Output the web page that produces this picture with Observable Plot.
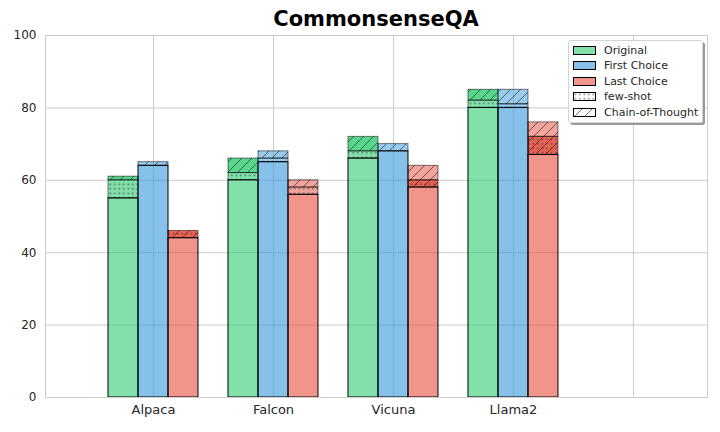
<!DOCTYPE html>
<html>
<head>
<meta charset="utf-8">
<script src="https://cdn.jsdelivr.net/npm/d3@7"></script>
<script src="https://cdn.jsdelivr.net/npm/@observablehq/plot@0.6"></script>
<style>
  html, body { margin: 0; padding: 0; background: #fff; }
  #wrap { position: relative; width: 720px; height: 432px; font-family: "DejaVu Sans", sans-serif; }
  #title { position: absolute; left: 45px; width: 662px; top: 9px; text-align: center; z-index: 2;
           font-weight: bold; font-size: 21px; line-height: 1; color: #000; }
  #chart { position: absolute; left: 0; top: 20px; }
  #legend { position: absolute; left: 568px; top: 40px; width: 133px; height: 81px; z-index: 2;
            background: rgba(255,255,255,0.9); border: 1px solid #d5d5d5; border-radius: 3px;
            box-shadow: 2px 2px 0 #9a9a9a; font-size: 11px; color: #262626; }
  .row { position: absolute; left: 4px; height: 14px; display: flex; align-items: center; }
  .row svg { margin-right: 8px; }
</style>
</head>
<body>
<div id="wrap">
  <div id="title">CommonsenseQA</div>
  <div id="chart"></div>
  <div id="legend"></div>
</div>
<script>
// ---- data ----
const models = ["Alpaca", "Falcon", "Vicuna", "Llama2"];
const options = ["Original", "First Choice", "Last Choice"];
// bar tops for each stage (base, with few-shot, with Chain-of-Thought)
const originalBase    = [55, 60, 66, 80];
const originalFewShot = [60, 62, 68, 82];
const originalCoT     = [61, 66, 72, 85];
const firstBase       = [64, 65, 68, 80];
const firstFewShot    = [64, 66, 68, 81];
const firstCoT        = [65, 68, 70, 85];
const lastBase        = [44, 56, 58, 67];
const lastFewShot     = [46, 58, 60, 72];
const lastCoT         = [46, 60, 64, 76];
const yTicks = [0, 20, 40, 60, 80, 100];
const legendLabels = ["Original", "First Choice", "Last Choice", "few-shot", "Chain-of-Thought"];

// ---- styles ----
const colors = {"Original": "#2ecc71", "First Choice": "#3498db", "Last Choice": "#e74c3c"};
const swatch = {"Original": "#82e0aa", "First Choice": "#85c1e9", "Last Choice": "#f1948a"};
const stageOpacity = {
  "Original":     {base: 0.6, fs: 0.6, cot: 0.8},
  "First Choice": {base: 0.6, fs: 0.5, cot: 0.5},
  "Last Choice":  {base: 0.6, fs: 0.5, cot: 0.5}
};
// segments where few-shot and CoT bars overlap (darker, both patterns)
const overlapSegments = new Set(["Last Choice|Alpaca", "Last Choice|Vicuna", "Last Choice|Llama2"]);

const table = [
  {option: "Original", base: originalBase, fs: originalFewShot, cot: originalCoT},
  {option: "First Choice", base: firstBase, fs: firstFewShot, cot: firstCoT},
  {option: "Last Choice", base: lastBase, fs: lastFewShot, cot: lastCoT}
];

const barWidth = 0.25;
const segments = [];
table.forEach((s, j) => {
  models.forEach((m, i) => {
    const x1 = i + (j - 1) * barWidth - barWidth / 2;
    const x2 = x1 + barWidth;
    const ov = overlapSegments.has(s.option + "|" + m);
    const op = stageOpacity[s.option];
    segments.push({model: m, option: s.option, stage: "base", x1, x2, y1: 0, y2: s.base[i],
      fill: colors[s.option], opacity: op.base, dots: false, hatch: false});
    if (s.fs[i] > s.base[i])
      segments.push({model: m, option: s.option, stage: "fs", x1, x2, y1: s.base[i], y2: s.fs[i],
        fill: colors[s.option], opacity: ov ? 0.88 : op.fs, dots: true, hatch: ov});
    if (s.cot[i] > s.fs[i])
      segments.push({model: m, option: s.option, stage: "cot", x1, x2, y1: s.fs[i], y2: s.cot[i],
        fill: colors[s.option], opacity: op.cot, dots: false, hatch: true});
  });
});

const baseSegs = segments.filter(d => d.stage === "base");
const upperSegs = segments.filter(d => d.stage !== "base");

const chart = Plot.plot({
  width: 720,
  height: 412,
  marginLeft: 45,
  marginRight: 13,
  marginTop: 15,
  marginBottom: 35,
  style: {fontFamily: "DejaVu Sans, sans-serif", color: "#262626", background: "#fff"},
  color: {type: "identity"},
  opacity: {type: "identity"},
  x: {domain: [-0.9, 4.617], label: null},
  y: {domain: [0, 100], label: null},
  marks: [
    Plot.gridY(yTicks, {stroke: "#cccccc", strokeOpacity: 1, strokeWidth: 1}),
    Plot.gridX([0, 1, 2, 3, 4], {stroke: "#cccccc", strokeOpacity: 1, strokeWidth: 1}),
    Plot.axisX([0, 1, 2, 3], {tickFormat: i => models[i], tickSize: 0, tickPadding: 7, fontSize: 13, fill: "#262626", label: null}),
    Plot.axisY(yTicks, {tickSize: 0, tickPadding: 9, fontSize: 12, fill: "#262626", label: null}),
    Plot.rect(segments, {x1: "x1", x2: "x2", y1: "y1", y2: "y2", fill: "fill", fillOpacity: "opacity"}),
    Plot.rect(segments.filter(d => d.dots), {x1: "x1", x2: "x2", y1: "y1", y2: "y2", fill: "url(#dotsPat)"}),
    Plot.rect(segments.filter(d => d.hatch), {x1: "x1", x2: "x2", y1: "y1", y2: "y2", fill: "url(#hatchPat)"}),
    Plot.rect(upperSegs, {x1: "x1", x2: "x2", y1: "y1", y2: "y2", fill: "none", stroke: "#000", strokeOpacity: 0.5, strokeWidth: 1}),
    Plot.rect(baseSegs, {x1: "x1", x2: "x2", y1: "y1", y2: "y2", fill: "none", stroke: "#000", strokeWidth: 1}),
    Plot.frame({stroke: "#cccccc", strokeWidth: 1})
  ]
});

// patterns
const ns = "http://www.w3.org/2000/svg";
const defs = document.createElementNS(ns, "defs");
defs.innerHTML = `
  <pattern id="dotsPat" patternUnits="userSpaceOnUse" width="4.5" height="4.5">
    <rect x="1.5" y="1.5" width="1.6" height="1.6" fill="#333" fill-opacity="0.65"></rect>
  </pattern>
  <pattern id="hatchPat" patternUnits="userSpaceOnUse" width="10" height="10">
    <path d="M0,10 L10,0 M-2.5,2.5 L2.5,-2.5 M7.5,12.5 L12.5,7.5" stroke="#222" stroke-opacity="0.7" stroke-width="0.9" fill="none"></path>
  </pattern>`;
chart.insertBefore(defs, chart.firstChild);
document.getElementById("chart").appendChild(chart);

// legend
const legend = document.getElementById("legend");
legendLabels.forEach((lab, k) => {
  const row = document.createElement("div");
  row.className = "row";
  row.style.top = (2 + k * 15.5) + "px";
  let fill = "#fff", extra = "";
  if (swatch[lab]) fill = swatch[lab];
  if (lab === "few-shot") extra = `<rect x="0.5" y="0.5" width="22" height="8" fill="url(#dotsPat)"></rect>`;
  if (lab === "Chain-of-Thought") extra = `<rect x="0.5" y="0.5" width="22" height="8" fill="url(#hatchPat)"></rect>`;
  row.innerHTML = `<svg width="23" height="9"><rect x="0.5" y="0.5" width="22" height="8" fill="${fill}"></rect>${extra}<rect x="0.5" y="0.5" width="22" height="8" fill="none" stroke="#000" stroke-width="1"></rect></svg><span>${lab}</span>`;
  legend.appendChild(row);
});
</script>
</body>
</html>
